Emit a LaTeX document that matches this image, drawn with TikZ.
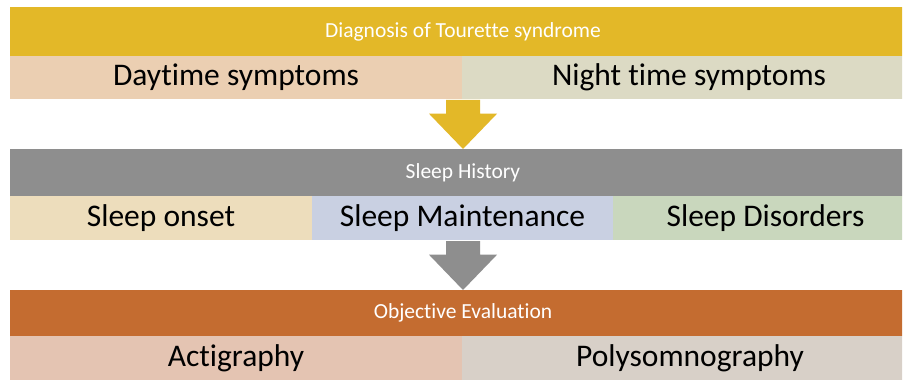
\documentclass[tikz,border=0pt]{standalone}
\usepackage{fontspec}
\setmainfont{Carlito}[Ligatures=NoCommon]
\usetikzlibrary{calc}

\definecolor{gelb}{HTML}{E3B828}
\definecolor{grau}{HTML}{8E8E8E}
\definecolor{orange}{HTML}{C46C30}
\definecolor{tag}{HTML}{EBCFB2}
\definecolor{nacht}{HTML}{DCDAC4}
\definecolor{einschlaf}{HTML}{EDDDBC}
\definecolor{durchschlaf}{HTML}{C9D0E2}
\definecolor{stoerung}{HTML}{C9D7BD}
\definecolor{akti}{HTML}{E4C4B2}
\definecolor{poly}{HTML}{D8D0C8}

\tikzset{
  kopf/.style={fill=#1,anchor=north west,inner sep=0pt,outer sep=0pt,
    minimum width=906pt,minimum height=47pt,text=white,font=\fontsize{21.5}{24}\selectfont},
  feld/.style={fill=#1,anchor=north west,inner sep=0pt,outer sep=0pt,
    minimum height=44pt,text=black,font=\fontsize{31.5}{36}\selectfont}
}

% Blockpfeil von #1 (oben, Mitte) nach #2 (Spitze)
\def\pfeil#1#2#3{
  \fill[#3] ($(#1)+(-17,0)$) -- ($(#1)+(17,0)$) -- ($(#1)!0.28!(#2)+(17,0)$)
    -- ($(#1)!0.28!(#2)+(34,0)$) -- (#2) -- ($(#1)!0.28!(#2)+(-34,0)$)
    -- ($(#1)!0.28!(#2)+(-17,0)$) -- cycle;
}

\begin{document}
\begin{tikzpicture}[x=1pt,y=-1pt]
\useasboundingbox[fill=white] (0,0) rectangle (904,382);
\clip (0,0) rectangle (902,382);

% Stufe 1
\node[kopf=gelb,minimum height=49pt] (diag) at (10,7) {Diagnosis of Tourette syndrome};
\node[feld=tag,minimum width=452pt,minimum height=43pt] (day) at (10,56) {Daytime symptoms};
\node[feld=nacht,minimum width=454pt,minimum height=43pt] (night) at (462,56) {Night time symptoms};

% Stufe 2
\node[kopf=grau] (hist) at (10,149) {Sleep History};
\node[feld=einschlaf,minimum width=302pt] (onset) at (10,196) {Sleep onset};
\node[feld=durchschlaf,minimum width=301pt] (maint) at (312,196) {Sleep Maintenance};
\node[feld=stoerung,minimum width=305pt] (dis) at (613,196) {Sleep Disorders};

% Stufe 3
\node[kopf=orange,minimum height=46pt] (eval) at (10,290) {Objective Evaluation};
\node[feld=akti,minimum width=452pt] (acti) at (10,336) {Actigraphy};
\node[feld=poly,minimum width=456pt] (psg) at (462,336) {Polysomnography};

% Pfeile
\coordinate (a1) at ($(day.south east)+(1,1)$);
\coordinate (b1) at (a1 |- hist.north);
\pfeil{a1}{b1}{gelb}
\coordinate (a2) at ($(a1 |- onset.south)+(0,1)$);
\coordinate (b2) at (a2 |- eval.north);
\pfeil{a2}{b2}{grau}
\end{tikzpicture}
\end{document}
